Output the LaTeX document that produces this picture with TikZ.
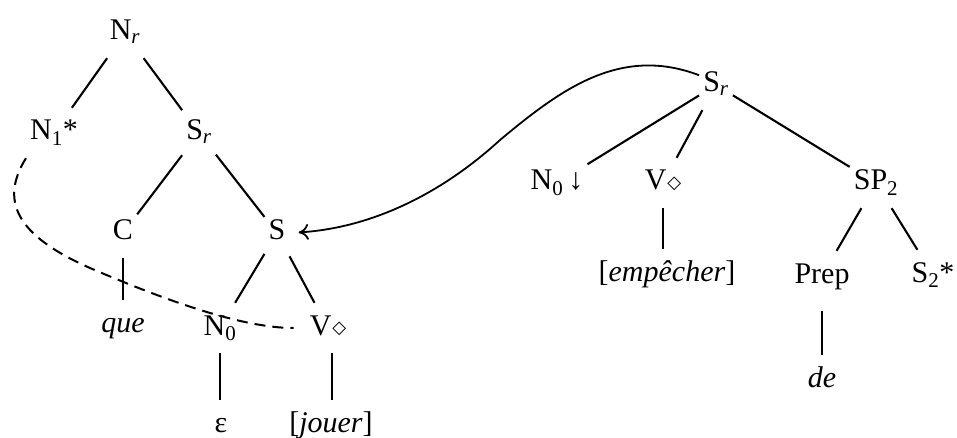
\documentclass[tikz,border=0pt]{standalone}
\usepackage{fontspec}
\setmainfont{Liberation Serif}
\newfontfamily\dejavu{DejaVu Sans}
\usetikzlibrary{arrows.meta}
\newcommand{\dmd}{\hspace{1pt}\raisebox{1.5pt}{\fontsize{18}{18}\selectfont\dejavu ◇}}
\begin{document}
\begin{tikzpicture}[x=1pt,y=-1pt,
  tn/.style={anchor=base, text height=20pt, text depth=6pt, inner xsep=4pt, inner ysep=12pt, font=\fontsize{30}{36}\selectfont},
  ln/.style={line width=2.1pt},
  dsh/.style={line width=2pt, dash pattern=on 11pt off 7pt},
  arr/.style={line width=1.8pt, -{To[length=10pt,width=16pt]}}]
\useasboundingbox (0,0) rectangle (957,438);
% left tree
\node[tn] (Nr) at (125,40) {N\textsubscript{\textit{r}}};
\node[tn] (N1) at (54,140) {N\textsubscript{1}*};
\node[tn] (Sr1) at (199,140) {S\textsubscript{\textit{r}}};
\node[tn] (C) at (123,240) {C};
\node[tn] (S) at (277,240) {S};
\node[tn] (que) at (123,332) {\textit{que}};
\node[tn] (N0) at (220,335) {N\textsubscript{0}};
\node[tn] (V) at (328,335) {V\dmd};
\node[tn] (eps) at (221,432) {ε};
\node[tn] (jouer) at (331,432) {[\textit{jouer}]};
% right tree
\node[tn] (Sr2) at (716,92) {S\textsubscript{\textit{r}}};
\node[tn] (N0d) at (557,190) {N\textsubscript{0}\,↓};
\node[tn] (V2) at (663,190) {V\dmd};
\node[tn] (SP2) at (876,190) {SP\textsubscript{2}};
\node[tn] (emp) at (667,281) {[\textit{empêcher}]};
\node[tn] (Prep) at (822,283) {Prep};
\node[tn] (S2) at (933,282) {S\textsubscript{2}*};
\node[tn] (de) at (822,387) {\textit{de}};
% edges left
\draw[ln] (Nr) -- (N1);
\draw[ln] (Nr) -- (Sr1);
\draw[ln] (Sr1) -- (C);
\draw[ln] (Sr1) -- (S);
\draw[ln] (C.south) -- (C.south |- que.north);
\draw[ln] (S) -- (N0);
\draw[ln] (S) -- (V);
\draw[ln] (N0.south) -- (N0.south |- eps.north);
\draw[ln] ([xshift=4pt]V.south) -- ([xshift=4pt]V.south |- jouer.north);
% edges right
\draw[ln] (Sr2) -- (N0d);
\draw[ln] (Sr2) -- (V2);
\draw[ln] (Sr2) -- (SP2);
\draw[ln] (V2.south) -- (V2.south |- emp.north);
\draw[ln] (SP2) -- (Prep);
\draw[ln] (SP2) -- (S2);
\draw[ln, shorten <=10pt] (Prep.south) -- (Prep.south |- de.north);
% dashed link
\draw[dsh, shorten >=12pt] (N1.south west) .. controls (0,200) and (15,235) .. (90,268)
  .. controls (160,298) and (240,328) .. (V.west);
% curved arrow
\draw[arr, shorten >=9pt] (Sr2.150) .. controls (620,45) and (560,90) .. (500,140)
  .. controls (440,195) and (370,228) .. (S.east);
\end{tikzpicture}
\end{document}
